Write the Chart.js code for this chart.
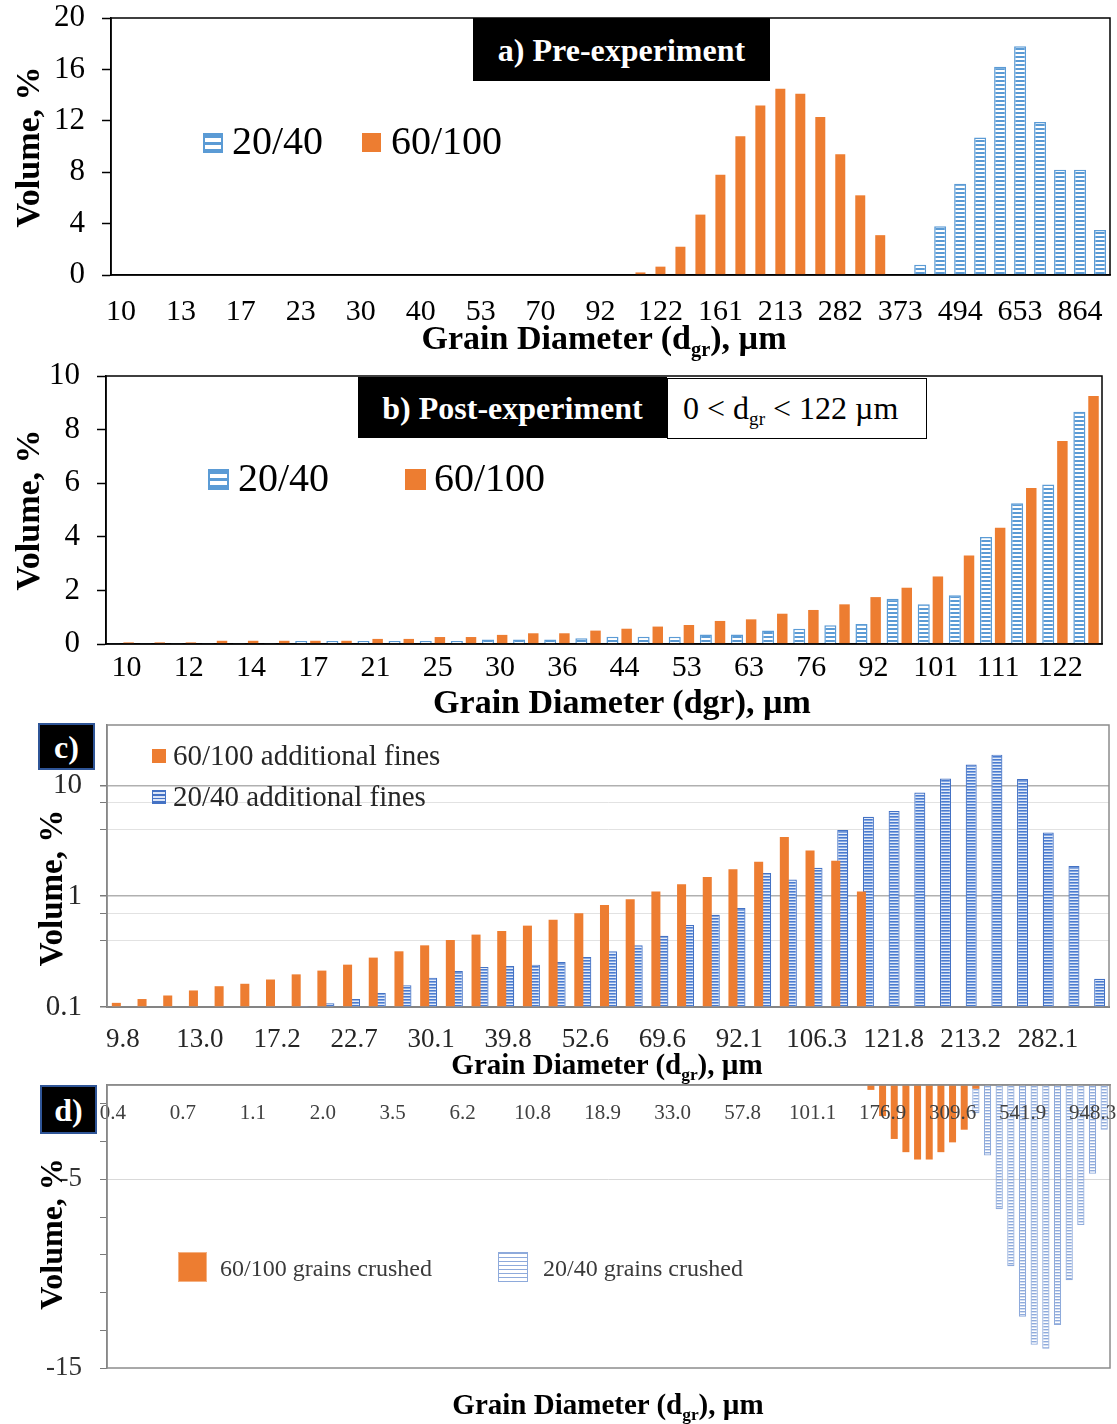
<!DOCTYPE html>
<html>
<head>
<meta charset="utf-8">
<script src="https://cdn.jsdelivr.net/npm/chart.js@4.4.1/dist/chart.umd.min.js"></script>
<style>
  html, body { margin: 0; padding: 0; background: #fff; }
  #page { position: relative; width: 1117px; height: 1424px; overflow: hidden;
          font-family: "Liberation Serif", "Times New Roman", serif; color: #000; }
  canvas { position: absolute; left: 0; }
  .t  { position: absolute; white-space: nowrap; line-height: 1; z-index: 2; }
  .yt { position: absolute; white-space: nowrap; line-height: 1; font-weight: bold; z-index: 2;
        transform: translate(-50%, -50%) rotate(-90deg); }
  .xt { position: absolute; white-space: nowrap; line-height: 1; font-weight: bold; z-index: 2;
        transform: translate(-50%, -50%); }
  .sub { font-size: 0.6em; position: relative; top: 0.32em; }
  .tag { position: absolute; background: #000; color: #fff; font-weight: bold; z-index: 2;
         display: flex; align-items: center; justify-content: center; box-sizing: border-box; line-height: 1; }
  .mk { position: absolute; box-sizing: border-box; z-index: 2; }
  .hbA { border: 2px solid #5b9bd5;
         background: repeating-linear-gradient(to bottom, #5b9bd5 0px, #5b9bd5 3px, #fff 3px, #fff 7px); }
  .hbC { border: 1.5px solid #4472c4;
         background: repeating-linear-gradient(to bottom, #4472c4 0px, #4472c4 1.5px, #dbe5f7 1.5px, #dbe5f7 3.5px); }
  .hbD { border: 1.5px solid #8eaadb;
         background: repeating-linear-gradient(to bottom, #8eaadb 0px, #8eaadb 1.5px, #fff 1.5px, #fff 4px); }
</style>
</head>
<body>
<div id="page">
  <canvas id="chartA" width="1117" height="360" style="top:0px"></canvas>
  <canvas id="chartB" width="1117" height="360" style="top:360px"></canvas>
  <canvas id="chartC" width="1117" height="360" style="top:720px"></canvas>
  <canvas id="chartD" width="1117" height="344" style="top:1080px"></canvas>

  <!-- a) -->
  <div class="tag" style="left:473px;top:18px;width:297px;height:63px;font-size:32px">a) Pre-experiment</div>
  <div class="mk hbA" style="left:203px;top:133px;width:20px;height:20px"></div>
  <div class="t" style="left:232px;top:121px;font-size:40px">20/40</div>
  <div class="mk" style="left:362px;top:133px;width:19px;height:19px;background:#ed7d31"></div>
  <div class="t" style="left:391px;top:121px;font-size:40px">60/100</div>
  <div class="yt" style="left:28px;top:147px;font-size:34px">Volume, %</div>
  <div class="xt" style="left:604px;top:338px;font-size:34px">Grain Diameter (d<span class="sub">gr</span>), µm</div>

  <!-- b) -->
  <div class="tag" style="left:358px;top:377px;width:309px;height:61px;font-size:32px">b) Post-experiment</div>
  <div class="t" style="left:667px;top:378px;width:260px;height:61px;box-sizing:border-box;border:1.5px solid #000;background:#fff;font-size:32px;padding:13px 0 0 15px">0 &lt; d<span class="sub">gr</span> &lt; 122 µm</div>
  <div class="mk hbA" style="left:208px;top:469px;width:21px;height:21px"></div>
  <div class="t" style="left:238px;top:458px;font-size:40px">20/40</div>
  <div class="mk" style="left:405px;top:469px;width:21px;height:21px;background:#ed7d31"></div>
  <div class="t" style="left:434px;top:458px;font-size:40px">60/100</div>
  <div class="yt" style="left:28px;top:510px;font-size:34px">Volume, %</div>
  <div class="xt" style="left:622px;top:702px;font-size:34px">Grain Diameter (dgr), µm</div>

  <!-- c) -->
  <div class="tag" style="left:38px;top:723px;width:57px;height:47px;font-size:32px;border:2px solid #2f5597">c)</div>
  <div class="mk" style="left:152px;top:749px;width:14px;height:14px;background:#ed7d31"></div>
  <div class="t" style="left:173px;top:741px;font-size:29px;color:#262626">60/100 additional fines</div>
  <div class="mk hbC" style="left:152px;top:790px;width:14px;height:14px"></div>
  <div class="t" style="left:173px;top:782px;font-size:29px;color:#262626">20/40 additional fines</div>
  <div class="yt" style="left:51px;top:888px;font-size:33px">Volume, %</div>
  <div class="xt" style="left:607px;top:1064px;font-size:29px">Grain Diameter (d<span class="sub">gr</span>), µm</div>

  <!-- d) -->
  <div class="tag" style="left:40px;top:1085px;width:57px;height:49px;font-size:32px;border:2px solid #2f5597">d)</div>
  <div class="mk" style="left:178px;top:1252px;width:29px;height:30px;background:#ed7d31;border:1px solid #f4b183"></div>
  <div class="t" style="left:220px;top:1256px;font-size:24px;color:#3a3a3a">60/100 grains crushed</div>
  <div class="mk hbD" style="left:498px;top:1252px;width:30px;height:30px"></div>
  <div class="t" style="left:543px;top:1256px;font-size:24px;color:#3a3a3a">20/40 grains crushed</div>
  <div class="yt" style="left:51px;top:1234px;font-size:32px">Volume, %</div>
  <div class="xt" style="left:608px;top:1404px;font-size:29px">Grain Diameter (d<span class="sub">gr</span>), µm</div>
</div>

<script>
// ---------- a) pre-experiment size distribution (volume, %) ----------
const preSizes = ['10','11','12','13','14','16','17','19','21','23','25','27','30','33','36','40','44','48','53','58',
                  '63','70','76','84','92','101','111','122','134','147','161','177','194','213','234','257','282','310','340','373',
                  '410','450','494','542','595','653','717','787','864','948'];
const pre2040Start = 40;
const pre2040 = [0.8, 3.8, 7.1, 10.7, 16.2, 17.8, 11.9, 8.2, 8.2, 3.5];
const pre60100Start = 26;
const pre60100 = [0.2, 0.65, 2.2, 4.7, 7.8, 10.8, 13.2, 14.5, 14.1, 12.3, 9.4, 6.2, 3.1];
const preYTicks = [0, 4, 8, 12, 16, 20];

// ---------- b) post-experiment fines, 0 < d < 122 µm ----------
const postSizes = ['10','11','12','13','14','16','17','19','21','23','25','27','30','33','36','40','44','48','53','58',
                   '63','70','76','84','92','96','101','106','111','116','122','128'];
const post2040 = [0.04,0.04,0.04,0.04,0.04,0.04,0.11,0.11,0.11,0.11,0.11,0.11,0.17,0.17,0.17,0.21,
                  0.27,0.27,0.27,0.35,0.35,0.50,0.57,0.70,0.75,1.69,1.48,1.82,3.99,5.25,5.95,8.67];
const post60100 = [0.06,0.06,0.06,0.12,0.12,0.12,0.12,0.12,0.19,0.19,0.26,0.26,0.34,0.40,0.40,0.50,
                   0.57,0.65,0.71,0.86,0.92,1.13,1.27,1.48,1.75,2.10,2.52,3.30,4.34,5.82,7.57,9.25];
const postYTicks = [0, 2, 4, 6, 8, 10];

// ---------- c) additional fines (log volume, %) ----------
const fineSizes = [9.8,10.8,11.9,13.0,14.3,15.7,17.2,18.9,20.7,22.7,25.0,27.4,30.1,33.0,36.2,39.8,43.7,47.9,52.6,57.8,
                   63.4,69.6,76.4,83.9,92.1,96.5,101.1,106.3,111.0,116.3,121.8,146.8,176.9,213.2,234.0,256.9,282.1,309.6,339.9];
const extra60100Start = 0;
const extra60100 = [0.109,0.118,0.127,0.141,0.154,0.162,0.177,0.197,0.213,0.241,0.279,0.318,0.360,0.402,0.450,
                    0.485,0.542,0.614,0.70,0.83,0.94,1.10,1.28,1.49,1.75,2.04,3.41,2.58,2.09,1.10];
const extra2040Start = 7;
const extra2040 = [0.102,0.108,0.118,0.134,0.157,0.184,0.211,0.23,0.234,0.241,0.255,0.283,0.319,0.36,0.44,0.55,
                   0.68,0.78,1.62,1.41,1.80,3.95,5.2,5.85,8.6,11.5,15.4,18.9,11.4,3.75,1.87,0.18];
const fineYTicks = [0.1,0.2,0.3,0.4,0.5,0.6,0.7,0.8,0.9,1,2,3,4,5,6,7,8,9,10,20,30];
const fineYLabels = [0.1, 1, 10];

// ---------- d) grains crushed (volume change, %) ----------
const crushSizes = [0.4,0.44,0.48,0.53,0.58,0.64, 0.7,0.77,0.84,0.92,1.0,1.05, 1.1,1.22,1.36,1.5,1.65,1.82,
                    2.0,2.2,2.41,2.65,2.9,3.19, 3.5,3.84,4.22,4.63,5.08,5.6, 6.2,6.8,7.47,8.2,9.0,9.88,
                    10.8,11.9,13.0,14.3,15.7,17.2, 18.9,20.7,22.8,25.0,27.4,30.1, 33.0,36.2,39.8,43.7,47.9,52.6,
                    57.8,63.4,69.6,76.4,83.9,92.1, 101.1,111.0,121.8,133.7,146.8,161.2, 176.9,194.2,213.2,234.0,256.9,282.1,
                    309.6,339.9,373.1,409.6,449.6,493.6, 541.9,594.9,653.0,716.9,787.0,863.9, 948.3,1041.0];
const crushed60100Start = 65;
const crushed60100 = [-0.26,-1.65,-2.86,-3.56,-3.95,-3.95,-3.56,-3.04,-2.37,-0.2];
const crushed2040Start = 74;
const crushed2040 = [-1.5,-3.74,-6.58,-9.61,-12.28,-13.77,-13.98,-12.72,-10.35,-7.42,-4.70,-2.37];
const crushYLabels = [-5, -15];

// ---------- helpers ----------
const ORANGE = '#ed7d31';

// place a run of measured values onto the full size axis
function spread(n, start, vals) {
  const out = [];
  for (let i = 0; i < n; i++) {
    const j = i - start;
    out.push(j >= 0 && j < vals.length ? vals[j] : null);
  }
  return out;
}

// horizontal-line hatch fill
function stripes(line, gap, lineH, period) {
  const c = document.createElement('canvas');
  c.width = 4; c.height = period;
  const g = c.getContext('2d');
  g.fillStyle = gap; g.fillRect(0, 0, 4, period);
  g.fillStyle = line; g.fillRect(0, 0, 4, lineH);
  return g.createPattern(c, 'repeat');
}

const fixWidth = w => s => { s.width = w; s.paddingTop = 0; s.paddingBottom = 0; s.paddingLeft = 0; s.paddingRight = 0; };
const fixHeight = h => s => { s.height = h; s.paddingTop = 0; s.paddingBottom = 0; s.paddingLeft = 0; s.paddingRight = 0; };

// outline of the plot area
const frame = {
  id: 'frame',
  afterDraw(chart, args, opts) {
    if (!opts || !opts.color) return;
    const { ctx, chartArea: a } = chart;
    ctx.save();
    ctx.strokeStyle = opts.color;
    ctx.lineWidth = opts.width || 1;
    ctx.strokeRect(a.left, a.top, a.right - a.left, a.bottom - a.top);
    ctx.restore();
  }
};

Chart.defaults.font.family = "'Liberation Serif', 'Times New Roman', serif";
Chart.defaults.color = '#000';

const base = {
  responsive: false,
  animation: false,
  devicePixelRatio: 1,
  events: []
};

// ---------- a) ----------
new Chart(document.getElementById('chartA'), {
  type: 'bar',
  data: {
    labels: preSizes,
    datasets: [
      { label: '20/40', data: spread(preSizes.length, pre2040Start, pre2040),
        backgroundColor: stripes('#5b9bd5', '#ffffff', 2, 4), borderColor: '#5b9bd5', borderWidth: 1.5,
        grouped: false, categoryPercentage: 1, barPercentage: 0.6 },
      { label: '60/100', data: spread(preSizes.length, pre60100Start, pre60100),
        backgroundColor: ORANGE, borderWidth: 0,
        grouped: false, categoryPercentage: 1, barPercentage: 0.5 }
    ]
  },
  options: Object.assign({}, base, {
    layout: { autoPadding: false, padding: { left: 0, right: 7, top: 18, bottom: 0 } },
    plugins: { legend: { display: false }, tooltip: { enabled: false }, frame: { color: '#000', width: 1.5 } },
    scales: {
      x: {
        grid: { display: false, drawTicks: false },
        border: { color: '#000', width: 1.5 },
        ticks: { autoSkip: false, maxRotation: 0, minRotation: 0, padding: 19, font: { size: 30 }, color: '#000',
                 callback: (v, i) => (i % 3 === 0 ? preSizes[i] : '') },
        afterFit: fixHeight(85)
      },
      y: {
        min: preYTicks[0], max: preYTicks[preYTicks.length - 1],
        afterBuildTicks: s => { s.ticks = preYTicks.map(v => ({ value: v })); },
        ticks: { padding: 17, font: { size: 31 }, color: '#000' },
        grid: { drawOnChartArea: false, drawTicks: true, tickLength: 9, tickColor: '#000', tickWidth: 1.5 },
        border: { color: '#000', width: 1.5 },
        afterFit: fixWidth(111)
      }
    }
  }),
  plugins: [frame]
});

// ---------- b) ----------
new Chart(document.getElementById('chartB'), {
  type: 'bar',
  data: {
    labels: postSizes,
    datasets: [
      { label: '20/40', data: post2040,
        backgroundColor: stripes('#5b9bd5', '#ffffff', 2, 4), borderColor: '#5b9bd5', borderWidth: 1.5,
        categoryPercentage: 0.91, barPercentage: 0.85 },
      { label: '60/100', data: post60100,
        backgroundColor: ORANGE, borderWidth: 0,
        categoryPercentage: 0.91, barPercentage: 0.74 }
    ]
  },
  options: Object.assign({}, base, {
    layout: { autoPadding: false, padding: { left: 0, right: 15, top: 16, bottom: 0 } },
    plugins: { legend: { display: false }, tooltip: { enabled: false }, frame: { color: '#000', width: 1.5 } },
    scales: {
      x: {
        grid: { display: false, drawTicks: false },
        border: { color: '#000', width: 1.5 },
        ticks: { autoSkip: false, maxRotation: 0, minRotation: 0, padding: 6, labelOffset: 5,
                 font: { size: 30 }, color: '#000',
                 callback: (v, i) => (i % 2 === 0 ? postSizes[i] : '') },
        afterFit: fixHeight(76)
      },
      y: {
        min: postYTicks[0], max: postYTicks[postYTicks.length - 1],
        afterBuildTicks: s => { s.ticks = postYTicks.map(v => ({ value: v })); },
        ticks: { padding: 17, font: { size: 31 }, color: '#000' },
        grid: { drawOnChartArea: false, drawTicks: true, tickLength: 9, tickColor: '#000', tickWidth: 1.5 },
        border: { color: '#000', width: 1.5 },
        afterFit: fixWidth(106)
      }
    }
  }),
  plugins: [frame]
});

// ---------- c) ----------
const isDecade = v => Math.abs(Math.log10(v) - Math.round(Math.log10(v))) < 1e-9;
new Chart(document.getElementById('chartC'), {
  type: 'bar',
  data: {
    labels: fineSizes.map(v => v.toFixed(1)),
    datasets: [
      { label: '60/100 additional fines', data: spread(fineSizes.length, extra60100Start, extra60100),
        backgroundColor: ORANGE, borderWidth: 0,
        categoryPercentage: 0.545, barPercentage: 1.29 },
      { label: '20/40 additional fines', data: spread(fineSizes.length, extra2040Start, extra2040),
        backgroundColor: stripes('#4a7bd0', '#e4ecf9', 1.6, 3.6), borderColor: '#4472c4', borderWidth: 1.2,
        categoryPercentage: 0.545, barPercentage: 1.57 }
    ]
  },
  options: Object.assign({}, base, {
    layout: { autoPadding: false, padding: { left: 0, right: 8, top: 5, bottom: 0 } },
    plugins: { legend: { display: false }, tooltip: { enabled: false }, frame: { color: '#8c8c8c', width: 1.5 } },
    scales: {
      x: {
        grid: { display: false, drawTicks: false },
        border: { color: '#6e6e6e', width: 2 },
        ticks: { autoSkip: false, maxRotation: 0, minRotation: 0, padding: 17, labelOffset: 3,
                 font: { size: 27 }, color: '#262626',
                 callback: (v, i) => (i % 3 === 0 ? fineSizes[i].toFixed(1) : '') },
        afterFit: fixHeight(73)
      },
      y: {
        type: 'logarithmic',
        min: 0.1, max: 35,
        afterBuildTicks: s => { s.ticks = fineYTicks.map(v => ({ value: v })); },
        ticks: { padding: 18, font: { size: 29 }, color: '#262626',
                 callback: v => (fineYLabels.includes(v) ? String(v) : '') },
        grid: {
          drawTicks: true, tickLength: 7,
          color: c => (c.tick && isDecade(c.tick.value) ? '#b0b0b0' : '#e2e2e2'),
          lineWidth: c => (c.tick && isDecade(c.tick.value) ? 1.5 : 1),
          tickColor: '#7a7a7a'
        },
        border: { color: '#7a7a7a', width: 1.5 },
        afterFit: fixWidth(107)
      }
    }
  }),
  plugins: [frame]
});

// ---------- d) ----------
// size labels sit just inside the top edge of the plot, over the bars
new Chart(document.getElementById('chartD'), {
  type: 'bar',
  data: {
    labels: crushSizes.map(v => v.toFixed(1)),
    datasets: [
      { label: '60/100 grains crushed', data: spread(crushSizes.length, crushed60100Start, crushed60100),
        backgroundColor: ORANGE, borderWidth: 0,
        grouped: false, categoryPercentage: 1, barPercentage: 0.6 },
      { label: '20/40 grains crushed', data: spread(crushSizes.length, crushed2040Start, crushed2040),
        backgroundColor: stripes('#8eaadb', '#ffffff', 1.4, 3.6), borderColor: '#8eaadb', borderWidth: 1.2,
        grouped: false, categoryPercentage: 1, barPercentage: 0.62 }
    ]
  },
  options: Object.assign({}, base, {
    layout: { autoPadding: false, padding: { left: 0, right: 7, top: 5, bottom: 56 } },
    plugins: { legend: { display: false }, tooltip: { enabled: false }, frame: { color: '#8c8c8c', width: 1.5 } },
    scales: {
      x: {
        position: 'top',
        grid: { display: false, drawTicks: false },
        border: { color: '#8c8c8c', width: 1.5 },
        ticks: { z: 1, mirror: true, autoSkip: false, maxRotation: 0, minRotation: 0, padding: 16,
                 font: { size: 21 }, color: '#404040',
                 callback: (v, i) => (i % 6 === 0 ? crushSizes[i].toFixed(1) : '') },
        afterFit: fixHeight(0)
      },
      y: {
        min: -15, max: 0,
        ticks: { stepSize: 1, padding: 18, font: { size: 27 }, color: '#333',
                 callback: v => (crushYLabels.includes(v) ? String(v) : '') },
        grid: {
          drawTicks: true, tickLength: 7,
          color: c => (c.tick && c.tick.value === -5 ? '#d9d9d9' : 'rgba(0,0,0,0)'),
          tickColor: '#7a7a7a'
        },
        border: { color: '#7a7a7a', width: 1.5 },
        afterFit: fixWidth(107)
      }
    }
  }),
  plugins: [frame]
});
</script>
</body>
</html>
